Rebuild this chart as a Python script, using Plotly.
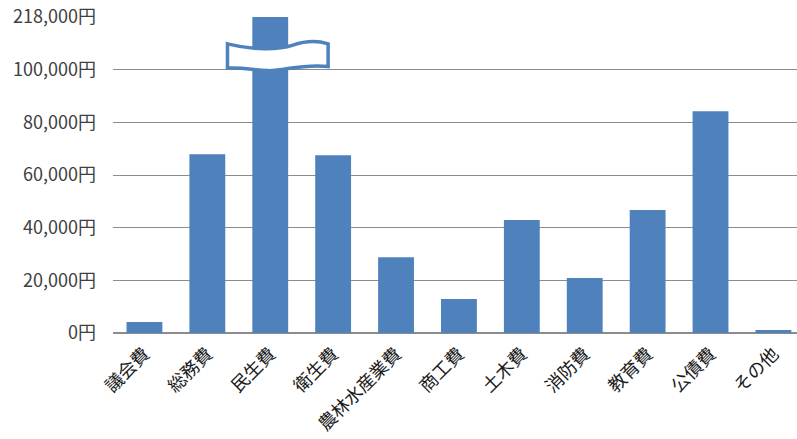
import plotly.graph_objects as go

categories = ["議会費", "総務費", "民生費", "衛生費", "農林水産業費", "商工費",
              "土木費", "消防費", "教育費", "公債費", "その他"]
values = [4200, 67900, 218000, 67500, 28800, 12900, 42900, 20900, 46700, 84200, 1100]

# broken axis: top tick shows 218,000 at the 120,000 position
axis_cap = 120000
tick_vals = [0, 20000, 40000, 60000, 80000, 100000, 120000]
tick_text = ["0円", "20,000円", "40,000円", "60,000円", "80,000円", "100,000円", "218,000円"]

shown = [min(v, axis_cap) for v in values]
brk = categories.index("民生費")

fig = go.Figure(go.Bar(
    x=list(range(len(categories))), y=shown,
    marker=dict(color="#4F81BD", line=dict(width=0)),
    customdata=values, hovertemplate="%{customdata:,}円<extra></extra>",
))

# wavy break symbol on the capped bar
x0, x1 = brk - 0.68, brk + 0.92
ytop, ybot = 109800, 100600
w = (x1 - x0)
amp = 1200
path = (
    f"M {x0},{ytop} "
    f"C {x0 + w*0.25},{ytop - 2*amp} {x0 + w*0.5},{ytop - 2*amp} {x0 + w*0.65},{ytop - amp*0.4} "
    f"S {x1 - w*0.1},{ytop + amp} {x1},{ytop} "
    f"L {x1},{ybot + amp*0.5} "
    f"C {x1 - w*0.25},{ybot + amp*1.5} {x1 - w*0.45},{ybot - amp} {x1 - w*0.6},{ybot - amp*0.8} "
    f"S {x0 + w*0.15},{ybot + amp*0.3} {x0},{ybot} Z"
)

fig.update_layout(
    width=797, height=439,
    margin=dict(l=113, r=0, t=17, b=106),
    paper_bgcolor="white", plot_bgcolor="white",
    bargap=0.43,
    showlegend=False,
    font=dict(family="Noto Sans CJK JP", size=15, color="#404040"),
    shapes=[dict(type="path", path=path, xref="x", yref="y",
                 fillcolor="white", line=dict(color="#4F81BD", width=3.5))],
    xaxis=dict(
        tickmode="array", tickvals=list(range(len(categories))), ticktext=categories,
        tickangle=-45, range=[-0.5, 10.375],
        showgrid=False, showline=False, zeroline=False, ticks="",
        ticklabelstandoff=6,
        tickfont=dict(size=18, color="#1a1a1a"),
    ),
    yaxis=dict(
        range=[0, axis_cap], tickmode="array", tickvals=tick_vals, ticktext=tick_text,
        showgrid=True, gridcolor="#8C8C8C", gridwidth=1,
        zeroline=True, zerolinecolor="#8C8C8C", zerolinewidth=1.5,
        showline=False, ticks="", ticklabelstandoff=16,
        tickfont=dict(size=18, color="#404040"),
    ),
)

fig.write_html("out.html")
